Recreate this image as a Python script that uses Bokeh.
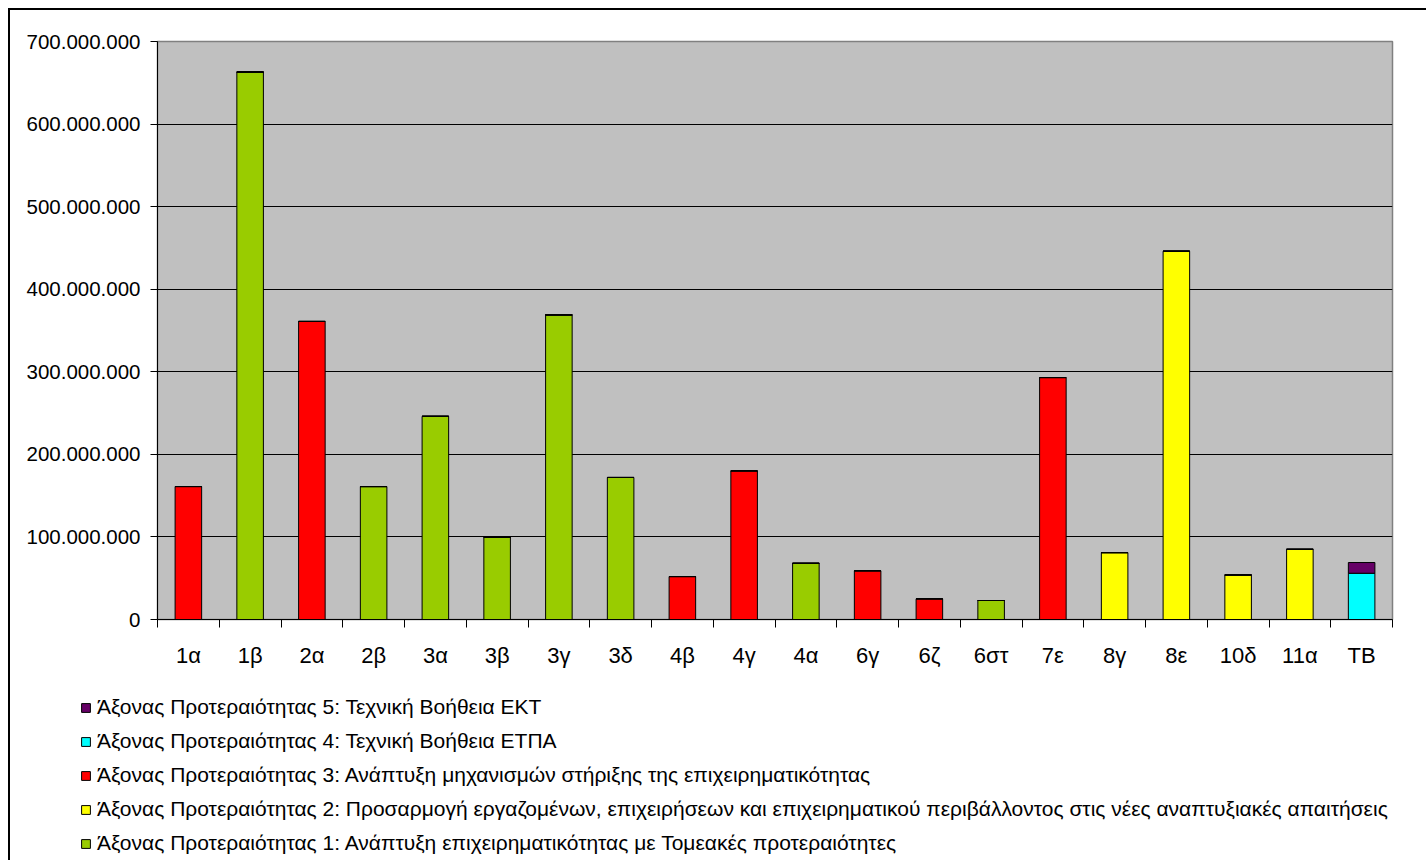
import numpy as np
from bokeh.plotting import figure
from bokeh.layouts import column
from bokeh.models import ColumnDataSource, FixedTicker, Legend, LegendItem, Range1d
from bokeh.embed import file_html
from bokeh.resources import INLINE

categories = ["1α", "1β", "2α", "2β", "3α", "3β", "3γ", "3δ", "4β", "4γ",
              "4α", "6γ", "6ζ", "6στ", "7ε", "8γ", "8ε", "10δ", "11α", "ΤΒ"]

# Άξονας Προτεραιότητας 1 (green)
axis1 = [0, 663e6, 0, 161e6, 246e6, 100e6, 369e6, 172e6, 0, 0,
         68e6, 0, 0, 23e6, 0, 0, 0, 0, 0, 0]
# Άξονας Προτεραιότητας 2 (yellow)
axis2 = [0, 0, 0, 0, 0, 0, 0, 0, 0, 0,
         0, 0, 0, 0, 0, 81e6, 446e6, 54e6, 85e6, 0]
# Άξονας Προτεραιότητας 3 (red)
axis3 = [161e6, 0, 361e6, 0, 0, 0, 0, 0, 52e6, 180e6,
         0, 59e6, 25e6, 0, 293e6, 0, 0, 0, 0, 0]
# Άξονας Προτεραιότητας 4 (cyan)
axis4 = [0, 0, 0, 0, 0, 0, 0, 0, 0, 0,
         0, 0, 0, 0, 0, 0, 0, 0, 0, 56e6]
# Άξονας Προτεραιότητας 5 (purple)
axis5 = [0, 0, 0, 0, 0, 0, 0, 0, 0, 0,
         0, 0, 0, 0, 0, 0, 0, 0, 0, 13e6]

series_names = [
    "Άξονας Προτεραιότητας 1: Ανάπτυξη επιχειρηματικότητας με Τομεακές προτεραιότητες",
    "Άξονας Προτεραιότητας 2: Προσαρμογή εργαζομένων, επιχειρήσεων και επιχειρηματικού περιβάλλοντος στις νέες αναπτυξιακές απαιτήσεις",
    "Άξονας Προτεραιότητας 3: Ανάπτυξη μηχανισμών στήριξης της επιχειρηματικότητας",
    "Άξονας Προτεραιότητας 4: Τεχνική Βοήθεια ΕΤΠΑ",
    "Άξονας Προτεραιότητας 5: Τεχνική Βοήθεια ΕΚΤ",
]
colors = ["#99CC00", "#FFFF00", "#FF0000", "#00FFFF", "#660066"]

y_ticks = [0, 100000000, 200000000, 300000000, 400000000, 500000000, 600000000, 700000000]
y_tick_labels = ["0", "100.000.000", "200.000.000", "300.000.000", "400.000.000",
                 "500.000.000", "600.000.000", "700.000.000"]

FONT = "Liberation Sans"

n = len(categories)
xpos = [i + 0.5 for i in range(n)]
source = ColumnDataSource(dict(x=xpos, a1=axis1, a2=axis2, a3=axis3, a4=axis4, a5=axis5))
stackers = ["a1", "a2", "a3", "a4", "a5"]

# ---------------- main chart ----------------
p = figure(width=1416, height=672, x_range=Range1d(0, n), y_range=Range1d(0, 700e6),
           output_backend="svg", toolbar_location=None,
           min_border_left=147, min_border_right=34, min_border_top=31, min_border_bottom=63)
p.frame_align = False

p.background_fill_color = "#C0C0C0"
p.border_fill_color = "white"
p.outline_line_color = "#808080"
p.outline_line_width = 1.5

renderers = p.vbar_stack(stackers, x="x", width=0.43,
                         fill_color=colors, line_color="black", line_width=1, source=source)

# Y axis
p.yaxis.ticker = FixedTicker(ticks=y_ticks)
p.yaxis.major_label_overrides = {t: l for t, l in zip(y_ticks, y_tick_labels)}
p.yaxis.major_tick_out = 7
p.yaxis.major_tick_in = 0
p.yaxis.minor_tick_line_color = None
p.yaxis.axis_line_color = "black"
p.yaxis.major_tick_line_color = "black"
p.yaxis.major_label_standoff = 10
p.yaxis.major_label_text_font = FONT
p.yaxis.major_label_text_font_size = "20.5px"
p.yaxis.major_label_text_color = "black"

# X axis: labels at centers, tick marks at category boundaries
p.xaxis.ticker = FixedTicker(ticks=xpos, minor_ticks=list(range(n + 1)))
p.xaxis.major_label_overrides = {x: c for x, c in zip(xpos, categories)}
p.xaxis.major_tick_line_color = None
p.xaxis.major_tick_out = 8
p.xaxis.minor_tick_out = 8
p.xaxis.minor_tick_in = 0
p.xaxis.minor_tick_line_color = "black"
p.xaxis.axis_line_color = "black"
p.xaxis.major_label_standoff = 15
p.xaxis.major_label_text_font = FONT
p.xaxis.major_label_text_font_size = "22px"
p.xaxis.major_label_text_color = "black"

# Grid
p.xgrid.grid_line_color = None
p.ygrid.ticker = FixedTicker(ticks=y_ticks[1:-1])
p.ygrid.grid_line_color = "black"
p.ygrid.grid_line_width = 1

# ---------------- legend area ----------------
p2 = figure(width=1416, height=178, x_range=Range1d(0, n), y_range=Range1d(0, 700e6),
            output_backend="svg", toolbar_location=None,
            x_axis_location=None, y_axis_location=None,
            min_border_left=0, min_border_right=0, min_border_top=0, min_border_bottom=0)
p2.frame_align = False
p2.outline_line_color = None
p2.background_fill_color = "white"
p2.border_fill_color = "white"
p2.xgrid.grid_line_color = None
p2.ygrid.grid_line_color = None

# same series, hidden here; they only supply the legend swatches
leg_renderers = p2.vbar_stack(stackers, x="x", width=0.43,
                              fill_color=colors, line_color="black", line_width=1, source=source)
for r in leg_renderers:
    r.visible = False

items = [LegendItem(label=series_names[i], renderers=[leg_renderers[i]]) for i in range(4, -1, -1)]
legend = Legend(items=items, location=(70, 5), orientation="vertical")
legend.padding = 0
legend.margin = 0
legend.border_line_color = None
legend.background_fill_alpha = 0
legend.inactive_fill_alpha = 0
legend.glyph_width = 11
legend.glyph_height = 11
legend.label_height = 24
legend.spacing = 10
legend.label_standoff = 6
legend.label_text_font = FONT
legend.label_text_font_size = "21px"
legend.label_text_color = "black"
p2.add_layout(legend, "center")

layout = column(p, p2, spacing=0,
                styles={"margin-left": "8px", "margin-top": "8px",
                        "border-left": "2px solid black", "border-top": "2px solid black"})

open("out.html", "w").write(file_html(layout, INLINE))
